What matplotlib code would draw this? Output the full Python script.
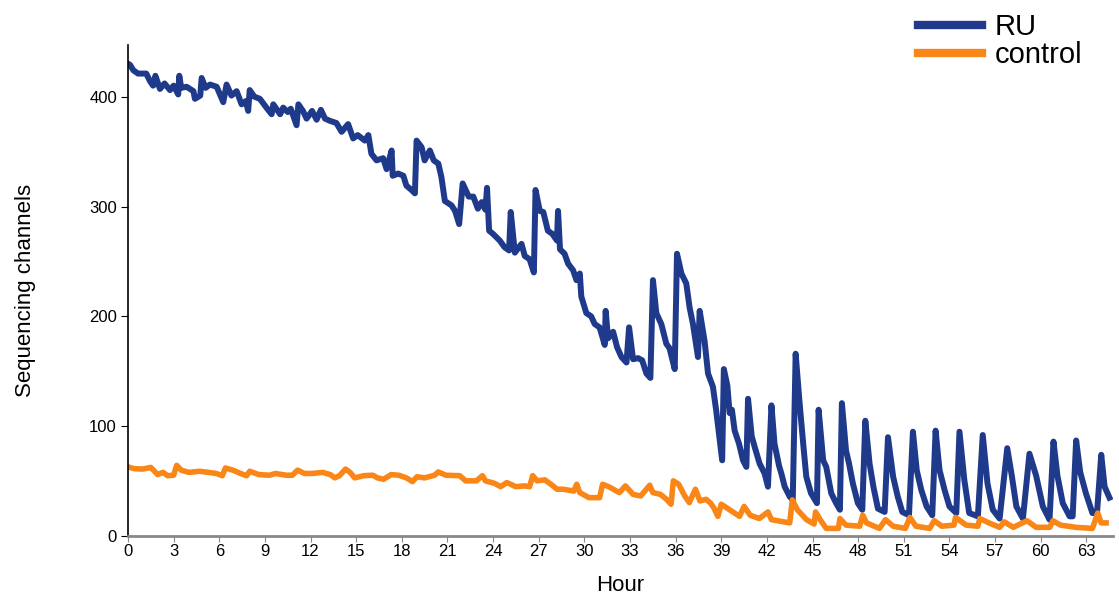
import numpy as np
from matplotlib import pyplot as plt

plt.rcParams['font.family'] = ['Liberation Sans', 'DejaVu Sans']

# (hour, channels)
ru_hour = [0.0, 0.13, 0.35, 0.66, 1.2, 1.45, 1.65, 1.8, 2.1, 2.4, 2.76, 3.0, 3.3, 3.37, 3.5,
           3.85, 4.3, 4.4, 4.75, 4.84, 5.1, 5.39, 5.83, 6.26, 6.48, 6.8, 7.14, 7.47, 7.75, 7.9,
           8.0, 8.3, 8.67, 9.1, 9.44, 9.55, 10.0, 10.2, 10.5, 10.7, 11.08, 11.2, 11.5, 11.74,
           12.1, 12.4, 12.68, 12.95, 13.27, 13.7, 14.04, 14.47, 14.8, 15.1, 15.57, 15.8, 16.0,
           16.34, 16.77, 17.0, 17.33, 17.4, 17.76, 18.1, 18.3, 18.64, 18.86, 18.97, 19.3, 19.5,
           19.84, 20.1, 20.4, 20.6, 20.83, 21.27, 21.5, 21.77, 22.0, 22.4, 22.7, 23.0, 23.25,
           23.5, 23.6, 23.74, 24.0, 24.44, 24.75, 25.05, 25.16, 25.43, 25.87, 26.08, 26.4,
           26.68, 26.79, 27.07, 27.3, 27.6, 27.9, 28.2, 28.27, 28.4, 28.7, 28.93, 29.26, 29.48,
           29.7, 29.8, 30.13, 30.45, 30.68, 31.0, 31.34, 31.4, 31.56, 31.89, 32.15, 32.44,
           32.77, 32.94, 33.2, 33.53, 33.8, 34.08, 34.34, 34.51, 34.73, 35.06, 35.39, 35.6,
           35.94, 36.09, 36.38, 36.7, 36.92, 37.14, 37.47, 37.58, 37.9, 38.13, 38.45, 38.66,
           39.06, 39.17, 39.4, 39.55, 39.7, 39.88, 40.17, 40.43, 40.65, 40.76, 41.0, 41.2,
           41.52, 41.85, 42.07, 42.3, 42.5, 42.8, 42.95, 43.17, 43.5, 43.7, 43.89, 44.15, 44.4,
           44.59, 44.9, 45.29, 45.4, 45.7, 45.9, 46.23, 46.55, 46.8, 46.93, 47.2, 47.4, 47.65,
           47.98, 48.27, 48.47, 48.75, 49.0, 49.3, 49.74, 49.96, 50.3, 50.6, 50.9, 51.34, 51.6,
           51.85, 52.15, 52.5, 52.87, 53.09, 53.35, 53.68, 54.0, 54.45, 54.66, 54.98, 55.3,
           55.87, 56.19, 56.5, 56.85, 57.3, 57.8, 58.1, 58.4, 58.83, 59.26, 59.7, 60.14, 60.58,
           60.84, 61.1, 61.45, 61.9, 62.1, 62.33, 62.6, 62.97, 63.4, 63.7, 63.98, 64.2, 64.52]
ru_val = [430, 429, 424, 421, 421, 414, 410, 419, 407, 412, 406, 410, 402, 419, 408,
          409, 405, 398, 401, 417, 408, 411, 409, 395, 411, 401, 405, 393, 396, 387,
          406, 400, 398, 390, 384, 393, 384, 390, 386, 389, 374, 393, 387, 380,
          387, 379, 388, 380, 378, 376, 368, 375, 362, 365, 360, 365, 348,
          342, 344, 334, 351, 328, 330, 328, 319, 315, 312, 360, 354, 342,
          351, 342, 339, 327, 305, 301, 296, 284, 321, 309, 309, 298, 304,
          297, 317, 278, 275, 269, 263, 260, 295, 258, 266, 255, 252,
          240, 315, 296, 295, 278, 275, 269, 296, 261, 257, 248, 242, 233,
          239, 218, 203, 200, 193, 190, 174, 205, 180, 186, 172, 163,
          158, 190, 161, 162, 160, 148, 144, 233, 203, 193, 175, 171,
          152, 257, 239, 230, 208, 193, 163, 205, 178, 148, 136, 115,
          69, 152, 137, 112, 115, 96, 84, 69, 63, 125, 91, 81,
          66, 57, 45, 119, 84, 64, 57, 45, 36, 33, 166, 121, 82,
          54, 39, 30, 115, 69, 63, 39, 30, 24, 121, 78, 66, 48,
          30, 24, 105, 66, 45, 25, 22, 90, 54, 36, 22, 19, 95,
          60, 42, 27, 19, 96, 60, 42, 27, 21, 95, 51, 21,
          18, 92, 48, 24, 16, 80, 55, 27, 16, 75, 55, 27, 15,
          86, 55, 30, 18, 18, 87, 58, 39, 21, 21, 74, 45, 35]

ctrl_hour = [0.0, 0.4, 0.95, 1.5, 1.95, 2.3, 2.6, 3.0, 3.2, 3.5, 4.0, 4.7, 5.3, 5.8, 6.2, 6.4,
             6.9, 7.4, 7.8, 8.0, 8.6, 9.3, 9.7, 10.4, 10.8, 11.15, 11.6, 12.1, 12.8, 13.3, 13.6,
             13.9, 14.3, 14.6, 14.9, 15.5, 16.1, 16.4, 16.8, 17.3, 17.8, 18.3, 18.7, 19.0, 19.5,
             20.15, 20.4, 20.9, 21.8, 22.2, 22.9, 23.3, 23.5, 24.1, 24.5, 24.9, 25.5, 26.05,
             26.4, 26.6, 26.9, 27.4, 27.8, 28.2, 28.6, 29.3, 29.5, 29.7, 30.3, 31.0, 31.2, 31.6,
             32.3, 32.7, 33.2, 33.7, 34.3, 34.5, 35.0, 35.4, 35.7, 35.85, 36.2, 36.6, 36.9, 37.3,
             37.6, 38.0, 38.3, 38.5, 38.78, 39.0, 39.55, 40.2, 40.5, 40.9, 41.5, 42.07, 42.3,
             43.5, 43.67, 44.0, 44.6, 45.1, 45.2, 45.5, 45.9, 46.7, 46.8, 47.2, 48.1, 48.3, 48.55,
             49.4, 49.8, 50.3, 51.1, 51.4, 51.8, 52.7, 53.0, 53.5, 54.3, 54.4, 55.1, 55.87, 56.0,
             56.6, 57.3, 57.6, 58.2, 59.1, 59.7, 60.6, 60.8, 61.3, 62.3, 63.4, 63.75, 63.98, 64.3]
ctrl_val = [63, 61.4, 61, 62.5, 56, 58, 55, 55.4, 64.4, 60, 58, 59, 58, 57, 55, 62,
            60, 57, 55, 59, 56, 55.4, 57, 55.4, 55.4, 60, 57, 57, 58, 56, 53,
            55, 61, 58, 53, 55, 55.4, 53, 51.7, 56, 55.4, 53, 49.6, 54, 53,
            55.4, 58.4, 55.4, 55, 50.3, 50.3, 55, 50.3, 48, 45, 48.7, 45, 45.7,
            45, 55, 50.3, 51.2, 47.2, 42.7, 42.7, 41, 47.2, 39.6, 35, 35, 47.2, 45,
            39.6, 45.7, 38, 36.5, 46.3, 39.6, 38, 33.5, 29, 50.3, 47.2, 36.5, 30.5, 42.7,
            32, 33.5, 30, 26, 18, 29, 24, 18, 27, 19, 16, 22, 15,
            12, 33, 24, 15, 11, 22, 15, 7, 7, 16, 10, 9, 19, 12,
            7, 15, 9, 7, 17, 9, 7, 14, 9, 10, 17, 10, 9, 16,
            12, 8, 13, 8, 14, 8, 8, 14, 10, 8, 7, 21, 12, 12]

blue = '#1f3a8a'
orange = '#f98616'

fig = plt.figure(figsize=(11.19, 5.97), dpi=100)
ax = fig.add_axes([0.1144, 0.102, 0.8802, 0.8226])

ax.plot(ru_hour, ru_val, color=blue, lw=4.3, solid_joinstyle='round', label='RU')
ax.plot(ctrl_hour, ctrl_val, color=orange, lw=4.0, solid_joinstyle='round', label='control')

ax.set_xlim(0, 64.75)
ax.set_ylim(0, 447)
ax.set_xticks(np.arange(0, 64, 3))
ax.set_yticks([0, 100, 200, 300, 400])
ax.tick_params(axis='x', labelsize=12, length=4, color='#888888', pad=2)
ax.tick_params(axis='y', labelsize=12, length=5, pad=3)
ax.spines['top'].set_visible(False)
ax.spines['right'].set_visible(False)
ax.spines['bottom'].set_color('#888888')
ax.spines['bottom'].set_linewidth(2)
ax.spines['left'].set_linewidth(1.2)

ax.set_xlabel('Hour', fontsize=16, labelpad=11)
ax.set_ylabel('Sequencing channels', fontsize=16, labelpad=38)

fig.legend(loc='upper left', bbox_to_anchor=(918 / 1119, 1 - 13 / 597), frameon=False,
           fontsize=21, handlelength=2.2, handletextpad=0.42, labelspacing=0.0,
           borderpad=0, borderaxespad=0)
for line in fig.legends[0].get_lines():
    line.set_linewidth(6)

fig.savefig('out.png', dpi=100)
